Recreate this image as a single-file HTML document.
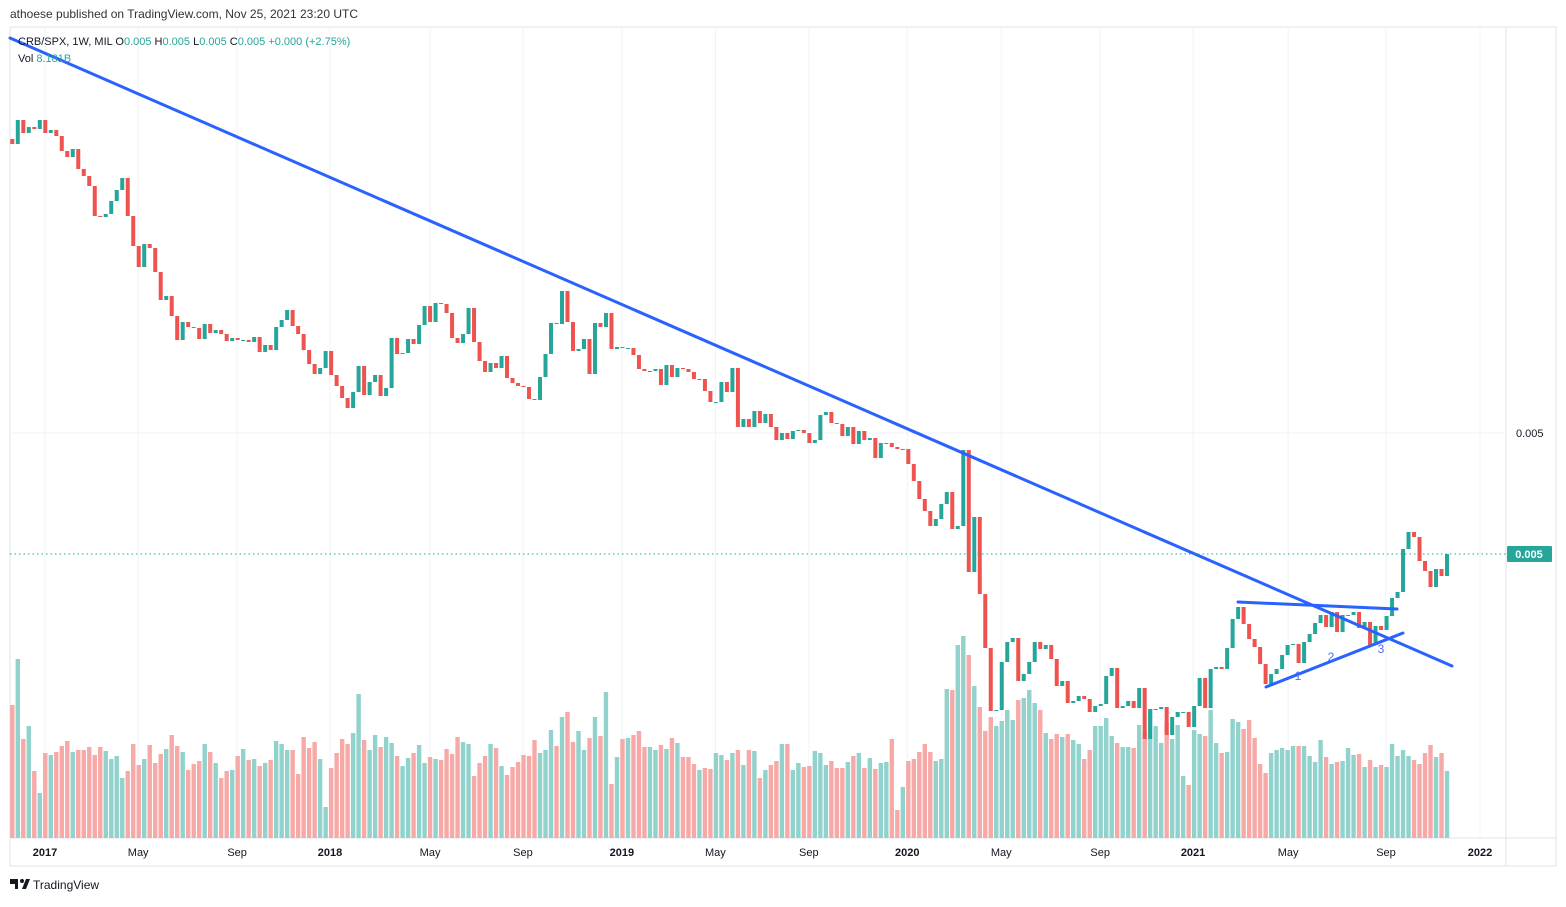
<!DOCTYPE html>
<html><head><meta charset="utf-8"><style>
body{margin:0;background:#fff;font-family:"Liberation Sans",sans-serif;}
svg text{font-family:"Liberation Sans",sans-serif;}
</style></head><body>
<svg id="chart" width="1566" height="902" viewBox="0 0 1566 902" xmlns="http://www.w3.org/2000/svg">
<rect x="0" y="0" width="1566" height="902" fill="#ffffff"/>
<text x="10" y="18" font-size="12" fill="#333">athoese published on TradingView.com, Nov 25, 2021 23:20 UTC</text>
<rect x="10" y="27" width="1546" height="839" fill="none" stroke="#e0e3eb"/>
<line x1="1506" y1="27" x2="1506" y2="866" stroke="#e0e3eb"/>
<line x1="10" y1="838" x2="1556" y2="838" stroke="#e0e3eb"/>
<g id="grid"></g>
<g id="vols"></g>
<g id="candles"></g>
<g id="drawings"></g>
<g id="axes"></g>
<text x="18" y="45" font-size="11" fill="#131722">CRB/SPX, 1W, MIL  O<tspan fill="#26a69a">0.005</tspan>  H<tspan fill="#26a69a">0.005</tspan>  L<tspan fill="#26a69a">0.005</tspan>  C<tspan fill="#26a69a">0.005</tspan>  <tspan fill="#26a69a">+0.000 (+2.75%)</tspan></text>
<text x="18" y="62" font-size="11" fill="#131722">Vol  <tspan fill="#26a69a">8.181B</tspan></text>
<g>
<rect x="10" y="879" width="8" height="5" fill="#131722"/><rect x="15" y="879" width="3" height="10" fill="#131722"/><circle cx="22" cy="881" r="2" fill="#131722"/><path d="M22 889 L26 879 L30 879 L26 889Z" fill="#131722"/>
<text x="33" y="889" font-size="12" fill="#131722">TradingView</text>
</g>
</svg>
<script>
const firstOpen = 861;
const closes = [856,880,867,873,871,880,867,870,864,849,843,851,831,824,814,784,783,786,799,810,822,784,754,733,756,752,728,700,704,684,660,678,673,672,661,676,667,670,666,659,662,660,660,658,663,648,655,650,673,680,690,674,666,650,636,626,632,649,625,614,602,592,608,634,605,618,625,604,612,662,646,647,661,656,675,694,678,697,696,687,662,657,666,692,658,639,628,637,632,644,622,617,614,613,601,600,623,646,677,676,709,678,649,651,661,626,677,673,687,651,653,652,652,645,631,629,629,631,615,635,623,632,631,628,621,621,609,598,598,618,608,632,573,581,573,589,577,586,573,560,567,561,569,570,567,557,560,585,588,577,576,564,573,556,569,560,562,542,557,557,553,551,551,536,519,501,489,474,481,496,508,471,474,550,428,483,406,352,289,290,338,358,362,319,326,338,358,351,355,341,314,319,297,299,304,301,288,294,296,324,332,292,294,299,292,312,261,291,291,293,265,283,288,288,273,294,322,292,331,333,331,352,381,393,376,361,353,336,316,326,331,345,355,356,337,358,366,377,385,373,388,368,385,385,388,372,378,355,374,370,384,402,408,451,468,463,439,429,413,431,424,446];
const volumes = [133,179,99,112,67,45,85,83,86,92,97,86,88,88,91,83,91,87,79,82,60,67,94,73,79,93,75,84,89,103,92,86,68,74,77,94,86,75,60,67,68,82,89,78,79,72,75,78,97,94,88,88,64,101,90,96,79,31,70,85,99,94,105,144,98,88,103,91,101,95,82,72,80,85,93,75,81,79,78,89,84,101,96,94,62,75,
82,94,90,72,63,71,76,83,82,98,85,88,108,92,121,126,96,107,88,100,121,102,146,54,81,99,100,103,107,91,91,88,93,89,100,95,81,81,74,68,70,69,85,83,78,85,88,73,88,87,60,68,73,77,94,94,68,75,71,72,87,85,73,77,70,70,76,82,85,70,80,69,75,76,99,28,51,77,79,86,94,86,77,79,149,
148,193,202,183,152,131,107,121,112,117,128,118,138,140,148,135,128,105,99,104,101,104,98,94,79,88,112,112,120,102,95,91,91,90,113,107,129,112,95,115,99,113,
62,53,108,104,102,128,95,85,86,119,116,109,118,100,74,65,85,88,90,88,92,92,92,82,76,98,81,74,76,77,90,83,84,71,78,71,73,71,94,82,88,82,78,74,85,93,81,85,67];
const timeLabels = ['2017','May','Sep','2018','May','Sep','2019','May','Sep','2020','May','Sep','2021','May','Sep','2022'];
const timeIdx = [5.95,22.9,40.9,57.8,76,92.9,110.9,127.9,144.9,162.8,179.9,197.9,214.8,232.1,249.9,267];
const priceTickLabels = ['0.005'];
const priceTickValues = [567];
const lastPrice = 446;
const lastLabel = '0.005';

const NS='http://www.w3.org/2000/svg';
const X0=12.3, STEP=5.497;
function xOf(i){return X0+i*STEP;}
function yOf(v){return 433-(v-567);}
function vH(v){return v;}
function mk(tag,attrs,parent){const e=document.createElementNS(NS,tag);for(const k in attrs)e.setAttribute(k,attrs[k]);parent.appendChild(e);return e;}
const grid=document.getElementById('grid'),vg=document.getElementById('vols'),cg=document.getElementById('candles'),ax=document.getElementById('axes'),dr=document.getElementById('drawings');

timeIdx.forEach((t,k)=>{
  const x=xOf(t);
  const gl=mk('line',{x1:x,y1:27,x2:x,y2:838,stroke:'#f0f3fa'},grid);
  
  
  const bold=/^\d{4}$/.test(timeLabels[k]);
  const tl=mk('text',{x:x,y:856,'font-size':11,'text-anchor':'middle',fill:'#131722','font-weight':bold?'bold':'normal'},ax);
  tl.textContent=timeLabels[k];
  
  
});
priceTickValues.forEach((v,k)=>{
  const y=yOf(v);
  const gl=mk('line',{x1:10,y1:y,x2:1506,y2:y,stroke:'#f0f3fa'},grid);
  
  
  const t=mk('text',{x:1516,y:y+4,'font-size':11,fill:'#131722'},ax);
  t.textContent=priceTickLabels[k];
  
  
});

let prev=firstOpen;
closes.forEach((c,i)=>{
  const o=prev; prev=c;
  const up=c>=o;
  const x=xOf(i);
  const h=vH(volumes[i]);
  const vb=mk('rect',{x:x-2.2,y:838-h,width:4.4,height:h,fill:up?'#92d2cc':'#f7a9a7'},vg);
  
  
  const y1=yOf(Math.max(o,c)),y2=yOf(Math.min(o,c));
  const cb=mk('rect',{x:x-2,y:y1,width:4,height:Math.max(1,y2-y1),fill:up?'#26a69a':'#ef5350'},cg);
  
  
});

const pl=mk('line',{x1:10,y1:yOf(lastPrice),x2:1506,y2:yOf(lastPrice),stroke:'#26a69a','stroke-dasharray':'1.5 3'},ax);


const pb=mk('rect',{x:1507,y:yOf(lastPrice)-8,width:45,height:16,fill:'#26a69a',rx:1},ax);


const pt=mk('text',{x:1529,y:yOf(lastPrice)+4,'font-size':11,'font-weight':'bold','text-anchor':'middle',fill:'#fff'},ax);
pt.textContent=lastLabel;



const lines=[[10,38,1452,666,'main-trendline'],[1238,602,1397,609,'triangle-upper-line'],[1266,687,1403,633,'triangle-lower-line']];
lines.forEach(l=>{
  const e=mk('line',{x1:l[0],y1:l[1],x2:l[2],y2:l[3],stroke:'#2962ff','stroke-width':3,'stroke-linecap':'round'},dr);
  
  
});
[['1',1298,680],['2',1331,661],['3',1381,653]].forEach(a=>{
  const t=mk('text',{x:a[1],y:a[2],'font-size':12,'text-anchor':'middle',fill:'#4a6cf7'},dr);
  t.textContent=a[0];
  
  
});
</script>
</body></html>
